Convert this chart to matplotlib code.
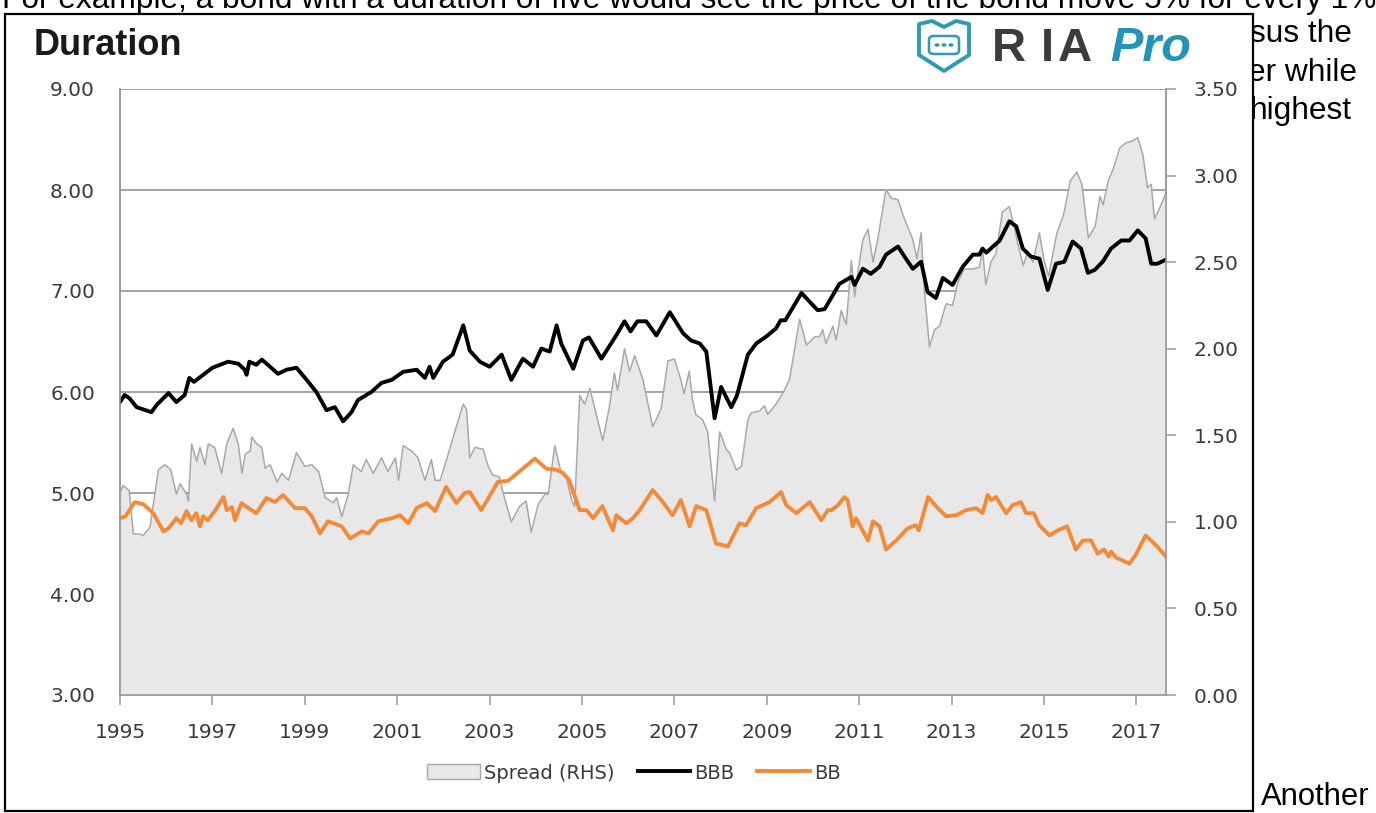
import numpy as np
import matplotlib
matplotlib.use("Agg")
import matplotlib.pyplot as plt
from matplotlib.patches import Rectangle, Polygon, Circle, FancyBboxPatch, Patch
from matplotlib.lines import Line2D

# ---- data (decimal years) ----#
bbb_t = [1995.00, 1995.10, 1995.20, 1995.36, 1995.68, 1995.79, 1996.05, 1996.22, 1996.40, 1996.50,
         1996.60, 1996.80, 1997.00, 1997.34, 1997.56, 1997.70, 1997.74, 1997.80, 1997.95, 1998.07,
         1998.20, 1998.42, 1998.60, 1998.82, 1999.04, 1999.25, 1999.47, 1999.65, 1999.83, 2000.01,
         2000.15, 2000.44, 2000.66, 2000.88, 2001.13, 2001.42, 2001.60, 2001.70, 2001.78, 2001.99,
         2002.20, 2002.43, 2002.57, 2002.79, 2003.00, 2003.26, 2003.47, 2003.72, 2003.94, 2004.12,
         2004.30, 2004.45, 2004.55, 2004.81, 2005.02, 2005.15, 2005.42, 2005.74, 2005.92, 2006.05,
         2006.20, 2006.39, 2006.61, 2006.90, 2007.19, 2007.36, 2007.55, 2007.69, 2007.87, 2008.01,
         2008.23, 2008.35, 2008.59, 2008.77, 2008.99, 2009.20, 2009.30, 2009.40, 2009.75, 2010.10,
         2010.25, 2010.43, 2010.57, 2010.83, 2010.90, 2011.08, 2011.25, 2011.44, 2011.58, 2011.84,
         2012.01, 2012.16, 2012.34, 2012.48, 2012.66, 2012.81, 2013.02, 2013.24, 2013.46, 2013.60,
         2013.67, 2013.75, 2014.04, 2014.25, 2014.40, 2014.54, 2014.72, 2014.90, 2015.08, 2015.26,
         2015.44, 2015.62, 2015.80, 2015.95, 2016.10, 2016.27, 2016.45, 2016.67, 2016.85, 2017.03,
         2017.20, 2017.32, 2017.45, 2017.64]
bbb_v = [5.90, 5.97, 5.94, 5.85, 5.80, 5.87, 5.99, 5.90, 5.97, 6.14,
         6.10, 6.17, 6.24, 6.30, 6.28, 6.22, 6.17, 6.30, 6.27, 6.32,
         6.27, 6.18, 6.22, 6.24, 6.12, 6.00, 5.82, 5.85, 5.71, 5.80,
         5.92, 6.00, 6.09, 6.12, 6.20, 6.22, 6.14, 6.25, 6.14, 6.30,
         6.37, 6.66, 6.41, 6.30, 6.25, 6.37, 6.12, 6.33, 6.25, 6.43,
         6.40, 6.66, 6.48, 6.23, 6.51, 6.54, 6.33, 6.56, 6.70, 6.60,
         6.70, 6.70, 6.56, 6.79, 6.58, 6.51, 6.48, 6.40, 5.74, 6.05,
         5.85, 5.96, 6.37, 6.48, 6.55, 6.63, 6.71, 6.71, 6.98, 6.81,
         6.82, 6.96, 7.07, 7.14, 7.06, 7.22, 7.17, 7.24, 7.36, 7.44,
         7.32, 7.22, 7.29, 6.99, 6.93, 7.13, 7.06, 7.24, 7.36, 7.36,
         7.42, 7.38, 7.50, 7.69, 7.64, 7.42, 7.34, 7.32, 7.01, 7.27,
         7.29, 7.49, 7.42, 7.18, 7.21, 7.29, 7.42, 7.50, 7.50, 7.60,
         7.52, 7.27, 7.27, 7.31]

bb_t = [1995.00, 1995.12, 1995.32, 1995.50, 1995.72, 1995.94, 1996.05, 1996.22, 1996.32, 1996.44,
        1996.55, 1996.65, 1996.73, 1996.80, 1996.90, 1997.05, 1997.24, 1997.31, 1997.42, 1997.49,
        1997.63, 1997.78, 1997.95, 1998.17, 1998.35, 1998.53, 1998.79, 1999.00, 1999.15, 1999.33,
        1999.50, 1999.80, 1999.98, 2000.24, 2000.38, 2000.59, 2000.88, 2001.06, 2001.24, 2001.42,
        2001.64, 2001.82, 2002.06, 2002.28, 2002.46, 2002.57, 2002.82, 2003.00, 2003.18, 2003.40,
        2003.69, 2003.98, 2004.23, 2004.45, 2004.58, 2004.72, 2004.95, 2005.10, 2005.24, 2005.44,
        2005.67, 2005.74, 2005.96, 2006.10, 2006.25, 2006.53, 2006.75, 2006.96, 2007.14, 2007.33,
        2007.47, 2007.69, 2007.90, 2008.16, 2008.41, 2008.55, 2008.77, 2009.06, 2009.31, 2009.42,
        2009.64, 2009.93, 2010.18, 2010.32, 2010.40, 2010.54, 2010.68, 2010.75, 2010.86, 2010.93,
        2011.19, 2011.30, 2011.44, 2011.58, 2011.80, 2012.05, 2012.22, 2012.29, 2012.49, 2012.70,
        2012.88, 2013.10, 2013.31, 2013.53, 2013.67, 2013.78, 2013.86, 2013.96, 2014.18, 2014.32,
        2014.50, 2014.61, 2014.78, 2014.90, 2015.12, 2015.30, 2015.50, 2015.69, 2015.84, 2016.02,
        2016.16, 2016.30, 2016.40, 2016.45, 2016.56, 2016.85, 2017.00, 2017.20, 2017.43, 2017.64]
bb_v = [4.75, 4.77, 4.91, 4.89, 4.80, 4.62, 4.65, 4.75, 4.70, 4.82,
        4.73, 4.80, 4.67, 4.77, 4.73, 4.82, 4.96, 4.83, 4.86, 4.73,
        4.90, 4.85, 4.80, 4.95, 4.91, 4.98, 4.85, 4.85, 4.77, 4.60,
        4.72, 4.67, 4.55, 4.62, 4.60, 4.72, 4.75, 4.78, 4.70, 4.85,
        4.90, 4.82, 5.06, 4.90, 5.00, 5.01, 4.83, 4.97, 5.11, 5.12,
        5.23, 5.34, 5.24, 5.23, 5.20, 5.13, 4.83, 4.83, 4.75, 4.87,
        4.63, 4.78, 4.70, 4.75, 4.83, 5.03, 4.91, 4.78, 4.93, 4.67,
        4.87, 4.83, 4.50, 4.47, 4.70, 4.68, 4.85, 4.91, 5.01, 4.88,
        4.80, 4.91, 4.73, 4.83, 4.83, 4.88, 4.96, 4.93, 4.67, 4.75,
        4.53, 4.72, 4.67, 4.44, 4.53, 4.65, 4.68, 4.63, 4.96, 4.85,
        4.77, 4.78, 4.83, 4.85, 4.80, 4.98, 4.93, 4.96, 4.80, 4.88,
        4.91, 4.80, 4.80, 4.68, 4.58, 4.63, 4.67, 4.44, 4.53, 4.53,
        4.40, 4.44, 4.37, 4.42, 4.36, 4.30, 4.40, 4.58, 4.48, 4.37]

spread_t = [1995.00, 1995.07, 1995.20, 1995.29, 1995.43, 1995.50, 1995.65, 1995.83, 1995.97, 1996.10,
            1996.22, 1996.30, 1996.44, 1996.48, 1996.55, 1996.66, 1996.73, 1996.84, 1996.91, 1997.05,
            1997.20, 1997.31, 1997.45, 1997.56, 1997.64, 1997.71, 1997.82, 1997.85, 1997.96, 1998.07,
            1998.14, 1998.25, 1998.40, 1998.50, 1998.65, 1998.82, 1999.00, 1999.15, 1999.30, 1999.44,
            1999.62, 1999.69, 1999.80, 1999.94, 2000.05, 2000.22, 2000.33, 2000.48, 2000.66, 2000.80,
            2000.96, 2001.03, 2001.13, 2001.31, 2001.45, 2001.60, 2001.74, 2001.82, 2001.93, 2002.07,
            2002.28, 2002.43, 2002.50, 2002.57, 2002.68, 2002.86, 2002.97, 2003.07, 2003.21, 2003.30,
            2003.47, 2003.65, 2003.79, 2003.90, 2004.05, 2004.20, 2004.27, 2004.41, 2004.55, 2004.66,
            2004.77, 2004.84, 2004.95, 2005.06, 2005.17, 2005.28, 2005.45, 2005.59, 2005.70, 2005.77,
            2005.92, 2006.03, 2006.14, 2006.32, 2006.53, 2006.71, 2006.86, 2007.00, 2007.14, 2007.21,
            2007.32, 2007.39, 2007.46, 2007.61, 2007.72, 2007.87, 2007.98, 2008.12, 2008.19, 2008.34,
            2008.45, 2008.59, 2008.66, 2008.84, 2008.95, 2009.02, 2009.20, 2009.34, 2009.49, 2009.71,
            2009.86, 2010.04, 2010.14, 2010.21, 2010.28, 2010.43, 2010.50, 2010.61, 2010.72, 2010.83,
            2010.90, 2010.97, 2011.08, 2011.19, 2011.30, 2011.40, 2011.58, 2011.69, 2011.84, 2011.95,
            2012.16, 2012.25, 2012.34, 2012.41, 2012.52, 2012.63, 2012.74, 2012.88, 2013.02, 2013.13,
            2013.27, 2013.46, 2013.60, 2013.67, 2013.74, 2013.85, 2013.96, 2014.10, 2014.25, 2014.35,
            2014.43, 2014.55, 2014.65, 2014.76, 2014.90, 2015.00, 2015.10, 2015.28, 2015.42, 2015.57,
            2015.71, 2015.82, 2015.96, 2016.11, 2016.21, 2016.28, 2016.39, 2016.50, 2016.64, 2016.78,
            2016.92, 2017.03, 2017.14, 2017.24, 2017.32, 2017.39, 2017.50, 2017.64]
spread_v = [1.17, 1.21, 1.18, 0.93, 0.93, 0.92, 0.97, 1.30, 1.33, 1.30,
            1.16, 1.22, 1.16, 1.12, 1.45, 1.35, 1.43, 1.33, 1.45, 1.43,
            1.28, 1.45, 1.54, 1.45, 1.28, 1.39, 1.41, 1.49, 1.45, 1.43,
            1.31, 1.33, 1.23, 1.28, 1.24, 1.40, 1.32, 1.33, 1.29, 1.14,
            1.11, 1.14, 1.03, 1.16, 1.33, 1.29, 1.36, 1.28, 1.37, 1.29,
            1.37, 1.24, 1.44, 1.41, 1.37, 1.24, 1.36, 1.24, 1.24, 1.36,
            1.55, 1.68, 1.65, 1.37, 1.43, 1.42, 1.32, 1.27, 1.26, 1.16,
            1.00, 1.09, 1.12, 0.94, 1.10, 1.16, 1.16, 1.44, 1.28, 1.26,
            1.13, 1.09, 1.73, 1.68, 1.77, 1.65, 1.47, 1.66, 1.86, 1.76,
            2.00, 1.87, 1.96, 1.82, 1.55, 1.65, 1.93, 1.94, 1.82, 1.74,
            1.87, 1.71, 1.62, 1.59, 1.52, 1.12, 1.52, 1.42, 1.40, 1.30,
            1.32, 1.59, 1.63, 1.64, 1.67, 1.62, 1.68, 1.74, 1.82, 2.17,
            2.02, 2.07, 2.07, 2.11, 2.03, 2.13, 2.05, 2.22, 2.14, 2.51,
            2.30, 2.44, 2.63, 2.69, 2.50, 2.63, 2.92, 2.87, 2.86, 2.77,
            2.63, 2.52, 2.67, 2.34, 2.01, 2.11, 2.13, 2.26, 2.25, 2.38,
            2.46, 2.46, 2.47, 2.57, 2.37, 2.50, 2.55, 2.79, 2.82, 2.71,
            2.61, 2.48, 2.56, 2.50, 2.67, 2.51, 2.42, 2.67, 2.77, 2.97,
            3.02, 2.95, 2.64, 2.71, 2.88, 2.83, 2.97, 3.04, 3.16, 3.19,
            3.20, 3.22, 3.12, 2.93, 2.95, 2.75, 2.81, 2.90]

left_ticks = [3, 4, 5, 6, 7, 8, 9]
right_ticks = [0, 0.5, 1.0, 1.5, 2.0, 2.5, 3.0, 3.5]
year_ticks = list(range(1995, 2018, 2))
legend_labels = ["Spread (RHS)", "BBB", "BB"]

W, H = 1376, 813


def fx(px):
    return px / W


def fy(py):
    return 1 - py / H


def run():
    fig = plt.figure(figsize=(W / 100, H / 100), dpi=100)

    # page text behind the chart box (screenshot)
    page = dict(family="Liberation Sans", fontsize=22.8, color="black", zorder=-2, va="baseline")
    fig.text(fx(2), fy(8), "For example, a bond with a duration of five would see the price of the bond move 5% for every 1%",
             ha="left", **page)
    fig.text(fx(1352), fy(42), "sus the", ha="right", **page)
    fig.text(fx(1357), fy(81), "er while", ha="right", **page)
    fig.text(fx(1352), fy(119), "highest", ha="right", **page)
    fig.text(fx(1261), fy(805), "Another", ha="left", family="Liberation Sans", fontsize=22.3,
             color="black", zorder=-2, va="baseline")

    fig.add_artist(Rectangle((fx(5), fy(811)), fx(1248), 797 / H, transform=fig.transFigure,
                             facecolor="white", edgecolor="black", lw=1.6, zorder=-1))

    fig.text(fx(34), fy(55), "Duration", family="Liberation Sans", fontweight="bold",
             fontsize=26, va="baseline", color="#1a1a1a")

    # logo
    logo_col = "#2f9ab3"
    shield = [(919, 24), (932, 21), (944, 27), (956, 21), (969, 24), (969, 55), (944, 71), (919, 55)]
    fig.add_artist(Polygon([(fx(a), fy(b)) for a, b in shield], closed=True, transform=fig.transFigure,
                           facecolor="white", edgecolor=logo_col, lw=2.8, joinstyle="round"))
    fig.add_artist(FancyBboxPatch((fx(929), fy(54)), fx(30), 18 / H, boxstyle="round,pad=0,rounding_size=0.004",
                                  transform=fig.transFigure, facecolor="white", edgecolor=logo_col, lw=1.8))
    for dx in [937, 944, 951]:
        fig.add_artist(Circle((fx(dx), fy(45)), 1.8 / W, transform=fig.transFigure, color=logo_col))
    ria = dict(family="Liberation Sans", fontsize=34, fontweight="bold", color="#3c3c3e",
               va="baseline", ha="left")
    fig.text(fx(992), fy(61), "R", **ria)
    fig.text(fx(1041), fy(61), "I", **ria)
    fig.text(fx(1058), fy(61), "A", **ria)
    fig.text(fx(1110), fy(61), "Pro", family="Liberation Sans", fontsize=35, fontweight="bold",
             style="italic", color="#2394b8", va="baseline", ha="left")

    # chart
    ax = fig.add_axes([fx(120), fy(695), fx(1046), (695 - 89) / H])
    ax.set_facecolor("white")
    ax.set_xlim(1995, 2017.64)
    ax.set_ylim(3, 9)
    ax.set_yticks(left_ticks)
    ax.set_yticklabels(["%.2f" % v for v in left_ticks])
    ax.set_xticks(year_ticks)
    ax.set_xticklabels([str(y) for y in year_ticks])
    ax.grid(axis="y", color="#8a8a8a", lw=1.1)
    ax.set_axisbelow(True)
    ax.tick_params(axis="y", length=0, pad=18, labelsize=14.5, labelcolor="#3a3a3a")
    ax.tick_params(axis="x", length=7, width=1.1, color="#9a9a9a", pad=13, labelsize=14.5,
                   labelcolor="#3a3a3a")

    ax2 = ax.twinx()
    ax2.fill_between(spread_t, spread_v, 0, color="#e8e8e8", lw=0)
    ax2.plot(spread_t, spread_v, color="#a8a8a8", lw=1.1)
    ax2.plot(bbb_t, bbb_v, color="black", lw=2.8, transform=ax.transData)
    ax2.plot(bb_t, bb_v, color="#f28a38", lw=2.8, transform=ax.transData)
    ax2.set_xlim(1995, 2017.64)
    ax2.set_ylim(0, 3.5)
    ax2.set_yticks(right_ticks)
    ax2.set_yticklabels(["%.2f" % v for v in right_ticks])
    ax2.tick_params(axis="y", length=7, width=1.1, color="#9a9a9a", pad=13, labelsize=14.5,
                    labelcolor="#3a3a3a")

    for a in (ax, ax2):
        for s in a.spines.values():
            s.set_color("#9a9a9a")
            s.set_linewidth(1.2)
        a.spines["top"].set_visible(False)

    handles = [Patch(facecolor="#e8e8e8", edgecolor="#a8a8a8", lw=1.0),
               Line2D([], [], color="black", lw=2.8),
               Line2D([], [], color="#f28a38", lw=2.8)]
    leg = fig.legend(handles, legend_labels, loc="center", bbox_to_anchor=(fx(634), fy(773)),
                     ncol=3, frameon=False, fontsize=14, handlelength=2.7, handleheight=0.8,
                     handletextpad=0.2, columnspacing=1.2)
    for t in leg.get_texts():
        t.set_color("#3a3a3a")

    fig.savefig("out.png", dpi=100)


if __name__ == '__main__':
    run()
